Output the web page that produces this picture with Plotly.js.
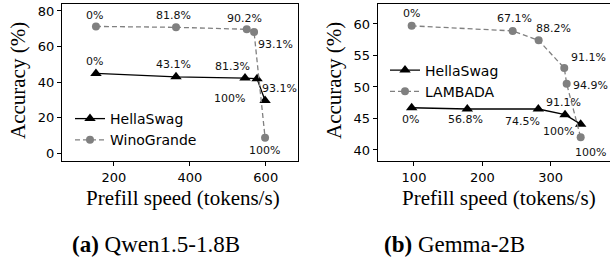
<!DOCTYPE html>
<html>
<head>
<meta charset="utf-8">
<script src="https://cdn.plot.ly/plotly-3.0.1.min.js"></script>
<style>html,body{margin:0;padding:0;background:#fff;}#chart{width:610px;height:267px;}</style>
</head>
<body>
<div id="chart"></div>
<script>
// ---- Data: (a) Qwen1.5-1.8B ----
const qwenHellaX = [152.5, 363.5, 545.4, 577.1, 598.2];
const qwenHellaY = [44.9, 43.0, 42.3, 41.9, 29.7];
const qwenHellaLabels = ["0%", "43.1%", "81.3%", "93.1%", "100%"];
const qwenWinoX = [152.5, 363.5, 549.9, 569.2, 598.2];
const qwenWinoY = [71.3, 70.8, 69.7, 68.1, 8.8];
const qwenWinoLabels = ["0%", "81.8%", "90.2%", "93.1%", "100%"];

// ---- Data: (b) Gemma-2B ----
const gemmaHellaX = [96.6, 178.0, 281.9, 321.0, 343.9];
const gemmaHellaY = [46.7, 46.5, 46.5, 45.6, 44.1];
const gemmaHellaLabels = ["0%", "56.8%", "74.5%", "91.1%", "100%"];
const gemmaLambX = [96.6, 244.4, 282.4, 319.9, 323.4, 343.9];
const gemmaLambY = [59.7, 58.9, 57.4, 53.0, 50.5, 42.0];
const gemmaLambLabels = ["0%", "67.1%", "88.2%", "91.1%", "94.9%", "100%"];

const xTicksA = [200, 400, 600];
const yTicksA = [0, 20, 40, 60, 80];
const xTicksB = [100, 200, 300];
const yTicksB = [40, 45, 50, 55, 60];

const seriesNames = ["HellaSwag", "WinoGrande", "LAMBADA"];
const xTitle = "Prefill speed (tokens/s)";
const yTitle = "Accuracy (%)";
const captions = ["<b>(a)</b> Qwen1.5-1.8B", "<b>(b)</b> Gemma-2B"];

// ---- Label offsets (pixels) ----
const offQH = [[-1,12],[-3,12],[-13,12],[22,-10],[-36,2]];
const offQW = [[-1,11],[-3,12],[-2,11],[21,-12],[-1,-13]];
const offGH = [[-1,-12],[-2,-10],[-16,-12],[-2,12],[-22,-7]];
const offGL = [[0,12],[2,12],[15,12],[24,11],[24,-2],[10,-15]];

const W = 610, H = 267;
const sans = "DejaVu Sans";
const serif = "Liberation Serif";
const black = "#000000", gray = "#808080";

const traces = [
  {x: qwenHellaX, y: qwenHellaY, name: seriesNames[0], xaxis: 'x', yaxis: 'y', mode: 'lines+markers',
   line: {color: black, width: 1.3}, marker: {symbol: 'triangle-up', size: 10, color: black}, legend: 'legend'},
  {x: qwenWinoX, y: qwenWinoY, name: seriesNames[1], xaxis: 'x', yaxis: 'y', mode: 'lines+markers',
   line: {color: gray, width: 1.3, dash: '5px,3px'}, marker: {symbol: 'circle', size: 8, color: gray}, legend: 'legend'},
  {x: gemmaHellaX, y: gemmaHellaY, name: seriesNames[0], xaxis: 'x2', yaxis: 'y2', mode: 'lines+markers',
   line: {color: black, width: 1.3}, marker: {symbol: 'triangle-up', size: 10, color: black}, legend: 'legend2'},
  {x: gemmaLambX, y: gemmaLambY, name: seriesNames[2], xaxis: 'x2', yaxis: 'y2', mode: 'lines+markers',
   line: {color: gray, width: 1.3, dash: '5px,3px'}, marker: {symbol: 'circle', size: 8, color: gray}, legend: 'legend2'}
];

const annotations = [];
function addLabels(xs, ys, labels, offs, xr, yr) {
  for (let i = 0; i < xs.length; i++) {
    annotations.push({x: xs[i], y: ys[i], xref: xr, yref: yr, text: labels[i], showarrow: false,
      xshift: offs[i][0], yshift: offs[i][1], xanchor: 'center', yanchor: 'middle',
      font: {family: sans, size: 11, color: '#111'}});
  }
}
addLabels(qwenHellaX, qwenHellaY, qwenHellaLabels, offQH, 'x', 'y');
addLabels(qwenWinoX, qwenWinoY, qwenWinoLabels, offQW, 'x', 'y');
addLabels(gemmaHellaX, gemmaHellaY, gemmaHellaLabels, offGH, 'x2', 'y2');
addLabels(gemmaLambX, gemmaLambY, gemmaLambLabels, offGL, 'x2', 'y2');

const plotTop = 4, plotBot = 161;
function py(p) { return (plotBot - p) / (plotBot - plotTop); }
function px(p) { return p / W; }

// axis titles & captions
annotations.push({xref: 'paper', yref: 'paper', x: px(183), y: py(198), text: xTitle, showarrow: false,
  xanchor: 'center', yanchor: 'middle', font: {family: serif, size: 21, color: black}});
annotations.push({xref: 'paper', yref: 'paper', x: px(499), y: py(198), text: xTitle, showarrow: false,
  xanchor: 'center', yanchor: 'middle', font: {family: serif, size: 21, color: black}});
annotations.push({xref: 'paper', yref: 'paper', x: px(18), y: py(81), text: yTitle, showarrow: false, textangle: -90,
  xanchor: 'center', yanchor: 'middle', font: {family: serif, size: 21, color: black}});
annotations.push({xref: 'paper', yref: 'paper', x: px(334), y: py(81), text: yTitle, showarrow: false, textangle: -90,
  xanchor: 'center', yanchor: 'middle', font: {family: serif, size: 21, color: black}});
annotations.push({xref: 'paper', yref: 'paper', x: px(156), y: py(244), text: captions[0], showarrow: false,
  xanchor: 'center', yanchor: 'middle', font: {family: serif, size: 23, color: black}});
annotations.push({xref: 'paper', yref: 'paper', x: px(454), y: py(244), text: captions[1], showarrow: false,
  xanchor: 'center', yanchor: 'middle', font: {family: serif, size: 23, color: black}});

const axisCommon = {showgrid: false, zeroline: false, showline: true, linecolor: black, linewidth: 1,
  ticks: 'outside', ticklen: 4, tickwidth: 1, tickcolor: black,
  tickfont: {family: sans, size: 13, color: black}, fixedrange: true};

const layout = {
  width: W, height: H,
  margin: {l: 0, r: 0, t: plotTop, b: H - plotBot, pad: 0},
  paper_bgcolor: '#fff', plot_bgcolor: '#fff',
  showlegend: true,
  xaxis: Object.assign({}, axisCommon, {domain: [62/W, 298/W], range: [63, 685], tickvals: xTicksA, mirror: true, anchor: 'y'}),
  yaxis: Object.assign({}, axisCommon, {domain: [0, 1], range: [-4.3, 83.9], tickvals: yTicksA, mirror: true, anchor: 'x'}),
  xaxis2: Object.assign({}, axisCommon, {domain: [377.7/W, 1], range: [46.9, 386.8], tickvals: xTicksB, mirror: true, anchor: 'y2'}),
  yaxis2: Object.assign({}, axisCommon, {domain: [0, 1], range: [38.25, 63.17], tickvals: yTicksB, mirror: false, anchor: 'x2'}),
  legend: {x: px(70), y: py(103), xanchor: 'left', yanchor: 'top', bgcolor: 'rgba(0,0,0,0)', borderwidth: 0,
    font: {family: sans, size: 14, color: black}, itemwidth: 30, tracegroupgap: 0},
  legend2: {x: px(385), y: py(54.5), xanchor: 'left', yanchor: 'top', bgcolor: 'rgba(0,0,0,0)', borderwidth: 0,
    font: {family: sans, size: 14, color: black}, itemwidth: 30, tracegroupgap: 0},
  annotations: annotations
};

Plotly.newPlot('chart', traces, layout, {displayModeBar: false, staticPlot: true});
</script>
</body>
</html>
